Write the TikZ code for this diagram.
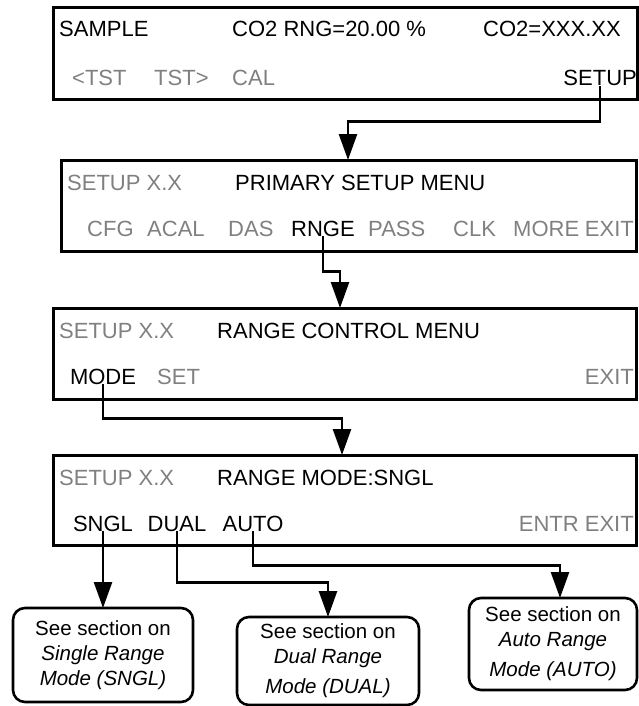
\documentclass[tikz,border=0pt]{standalone}
\usepackage{fontspec}
\setmainfont{Liberation Sans}
\usetikzlibrary{arrows.meta}

\definecolor{lcdgray}{gray}{0.5}

\tikzset{
  screen/.style={draw, line width=3pt, anchor=north west, inner sep=0pt, outer sep=0pt},
  key/.style={inner sep=0pt, font=\fontsize{22}{26}\selectfont},
  dim/.style={key, text=lcdgray},
  link/.style={line width=2.6pt, -{Triangle[length=26pt,width=18pt]}},
  bubble/.style={draw, line width=2.6pt, rounded corners=12pt, anchor=north, align=center,
    inner sep=0pt, outer sep=0pt, font=\fontsize{20.5}{25}\selectfont}
}

\begin{document}
\begin{tikzpicture}[x=1pt, y=-1pt]
  \useasboundingbox (0,0) rectangle (639,706);

  % Sample display
  \node[screen, minimum width=584pt, minimum height=92pt] (scr1) at (53,8) {};
  \node[key, anchor=base west] (kSample) at (59,37) {SAMPLE};
  \node[key, anchor=base west] (kRange) at (232,37) {CO2 RNG=20.00 \%};
  \node[key, anchor=base west] (kConc) at (483,37) {CO2=XXX.XX};
  \node[dim, anchor=base west] (kTstL) at (72,86) {<TST};
  \node[dim, anchor=base west] (kTstR) at (154,86) {TST>};
  \node[dim, anchor=base west] (kCal) at (232,86) {CAL};
  \node[key, anchor=base east] (kSetup) at (637,86) {SETUP};

  % Primary setup menu
  \node[screen, minimum width=575pt, minimum height=91pt] (scr2) at (61,160) {};
  \node[dim, anchor=base west] (kVer2) at (67,190) {SETUP X.X};
  \node[key, anchor=base west] (kPrimary) at (235,190) {PRIMARY SETUP MENU};
  \node[dim, anchor=base west] (kCfg) at (87,236) {CFG};
  \node[dim, anchor=base west] (kAcal) at (147,236) {ACAL};
  \node[dim, anchor=base west] (kDas) at (228,236) {DAS};
  \node[key, anchor=base west] (kRnge) at (291,236) {RNGE};
  \node[dim, anchor=base west] (kPass) at (368,236) {PASS};
  \node[dim, anchor=base west] (kClk) at (453,236) {CLK};
  \node[dim, anchor=base west] (kMore) at (513,236) {MORE};
  \node[dim, anchor=base east] (kExit2) at (634,236) {EXIT};

  % Range control menu
  \node[screen, minimum width=583pt, minimum height=91pt] (scr3) at (53,308) {};
  \node[dim, anchor=base west] (kVer3) at (59,338) {SETUP X.X};
  \node[key, anchor=base west] (kControl) at (217,338) {RANGE CONTROL MENU};
  \node[key, anchor=base] (kMode) at (103,384) {MODE};
  \node[dim, anchor=base west] (kSet) at (157,384) {SET};
  \node[dim, anchor=base east] (kExit3) at (634,384) {EXIT};

  % Range mode menu
  \node[screen, minimum width=583pt, minimum height=90pt] (scr4) at (53,455) {};
  \node[dim, anchor=base west] (kVer4) at (59,485) {SETUP X.X};
  \node[key, anchor=base west] (kRmode) at (217,485) {RANGE MODE:SNGL};
  \node[key, anchor=base] (kSngl) at (103,531) {SNGL};
  \node[key, anchor=base] (kDual) at (177,531) {DUAL};
  \node[key, anchor=base] (kAuto) at (253,531) {AUTO};
  \node[dim, anchor=base east] (kEntr) at (634,531) {ENTR EXIT};

  % Section pointers
  \node[bubble, minimum width=180pt, minimum height=94pt] (bubA) at (103,608)
    {See section on\\ \textit{Single Range}\\ \textit{Mode (SNGL)}};
  \node[bubble, minimum width=182pt, minimum height=88pt] (bubB) at (328,617)
    {See section on\\ \textit{Dual Range}\\[5pt] \textit{Mode (DUAL)}};
  \node[bubble, minimum width=168pt, minimum height=92pt] (bubC) at (553,598)
    {See section on\\ \textit{Auto Range}\\[5pt] \textit{Mode (AUTO)}};

  % Key presses
  \coordinate (in2) at (348,160);
  \coordinate (in3) at (340,308);
  \coordinate (in4) at (342,455);
  \draw[link] (kSetup.south) -- ++(0,35) -| (in2);
  \draw[link] (kRnge.south) -- ++(0,35) -| (in3);
  \draw[link] (kMode.south) -- ++(0,34) -| (in4);
  \draw[link] (kSngl.south) -- (bubA.north);
  \draw[link] (kDual.south) -- ++(0,51) -| (bubB.north);
  \draw[link] (kAuto.south) -- ++(0,34) -| ([xshift=7pt]bubC.north);
\end{tikzpicture}
\end{document}
